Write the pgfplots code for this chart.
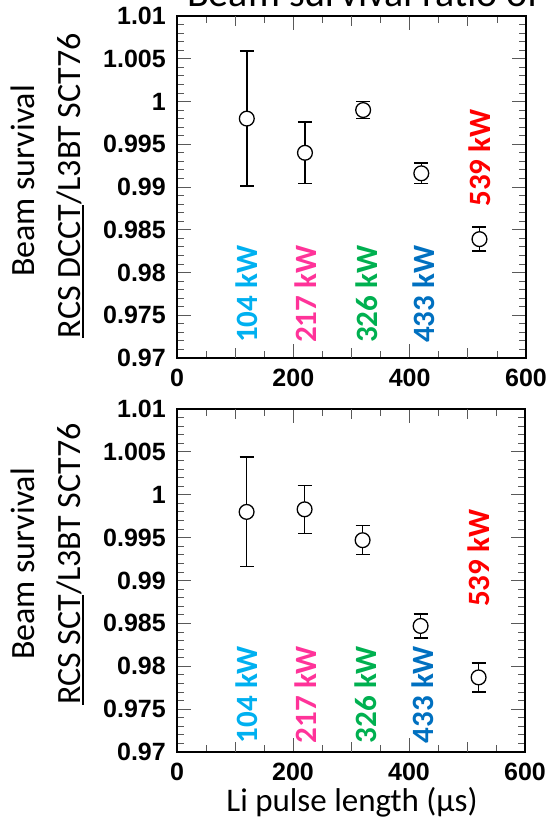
\documentclass[border=0pt]{standalone}
\usepackage{fontspec}
\setmainfont{Carlito}
\newfontfamily\arialf{Liberation Sans}
\usepackage{pgfplots}
\usepackage{pgfplotstable}
\pgfplotsset{compat=1.18}
\definecolor{c104}{RGB}{0,176,240}
\definecolor{c217}{RGB}{255,51,153}
\definecolor{c326}{RGB}{0,176,80}
\definecolor{c433}{RGB}{0,112,192}
\definecolor{c539}{RGB}{255,0,0}
\newcommand\ul[1]{\setbox0\hbox{#1}\rlap{\rule[-3.8pt]{\wd0}{1.6pt}}\box0}
\pgfplotstableread{
x y ey
120 0.9980 0.0079
220 0.9940 0.0036
320 0.9990 0.0010
420 0.9916 0.0012
520 0.9839 0.0014
}\topdata
\pgfplotstableread{
x y ey
120 0.9980 0.0064
220 0.9983 0.0028
320 0.9947 0.0017
420 0.9847 0.0014
520 0.9787 0.0017
}\botdata
\pgfplotsset{
  myaxis/.style={
    scale only axis,
    xmin=0, xmax=600, ymin=0.97, ymax=1.01,
    axis line style={line width=2pt},
    tick style={black!65, line width=0.8pt},
    major tick length=14pt, minor tick length=7pt,
    xtick pos=both, ytick pos=both,
    xtick={0,200,400,600}, xticklabels={0,200,400,600},
    minor x tick num=3,
    extra x ticks={100,300,500}, extra x tick labels={},
    extra x tick style={major tick length=10pt},
    ytick={0.97,0.975,0.98,0.985,0.99,0.995,1,1.005,1.01},
    yticklabels={0.97,0.975,0.98,0.985,0.99,0.995,1,1.005,1.01},
    minor y tick num=4,
    /pgf/number format/assume math mode=true,
    tick label style={font=\arialf\bfseries\fontsize{25}{25}\selectfont, inner sep=0pt},
    xticklabel shift=11pt, yticklabel shift=11pt,
  },
  mypts/.style={
    only marks, mark=*, mark size=7.4pt,
    mark options={fill=white, draw=black, line width=1.3pt},
    error bars/.cd, y dir=both, y explicit,
    error bar style={line width=1.4pt, black},
    error mark options={rotate=90, mark size=7pt, line width=1.4pt, black},
  },
}
\tikzset{lab/.style={rotate=90, anchor=west, inner sep=0pt, font=\bfseries\fontsize{31}{31}\selectfont}}
\begin{document}
\begin{tikzpicture}[x=1pt,y=1pt]
\useasboundingbox (0,0) rectangle (548,820);
\node[anchor=base west, inner sep=0pt, font=\fontsize{40}{40}\selectfont] at (187,813) {Beam survival ratio of};
\begin{axis}[myaxis, at={(177pt,462pt)}, anchor=south west, width=349pt, height=342pt]
\addplot[mypts] table[x=x, y=y, y error=ey] {\topdata};
\node[lab, text=c104] at (axis cs:120,0.97175) {104 kW};
\node[lab, text=c217] at (axis cs:221.8,0.97175) {217 kW};
\node[lab, text=c326] at (axis cs:326,0.97175) {326 kW};
\node[lab, text=c433] at (axis cs:423.5,0.97175) {433 kW};
\node[lab, text=c539] at (axis cs:521,0.98770) {539 kW};
\end{axis}
\begin{axis}[myaxis, at={(177pt,68pt)}, anchor=south west, width=348pt, height=343pt]
\addplot[mypts] table[x=x, y=y, y error=ey] {\botdata};
\node[lab, text=c104] at (axis cs:120,0.97101) {104 kW};
\node[lab, text=c217] at (axis cs:221.8,0.97101) {217 kW};
\node[lab, text=c326] at (axis cs:326,0.97101) {326 kW};
\node[lab, text=c433] at (axis cs:423.5,0.97101) {433 kW};
\node[lab, text=c539] at (axis cs:521,0.98691) {539 kW};
\end{axis}
\node[rotate=90, anchor=base, inner sep=0pt, font=\fontsize{34}{34}\selectfont] at (35,639) {Beam survival};
\node[rotate=90, anchor=base, inner sep=0pt, font=\fontsize{34}{34}\selectfont] at (80,634.5) {\ul{RCS DCCT}/L3BT SCT76};
\node[rotate=90, anchor=base, inner sep=0pt, font=\fontsize{34}{34}\selectfont] at (35,256) {Beam survival};
\node[rotate=90, anchor=base, inner sep=0pt, font=\fontsize{34}{34}\selectfont] at (80,256) {\ul{RCS SCT}/L3BT SCT76};
\node[anchor=base, inner sep=0pt, font=\fontsize{33}{33}\selectfont] at (352,9) {Li pulse length (μs)};
\end{tikzpicture}
\end{document}
